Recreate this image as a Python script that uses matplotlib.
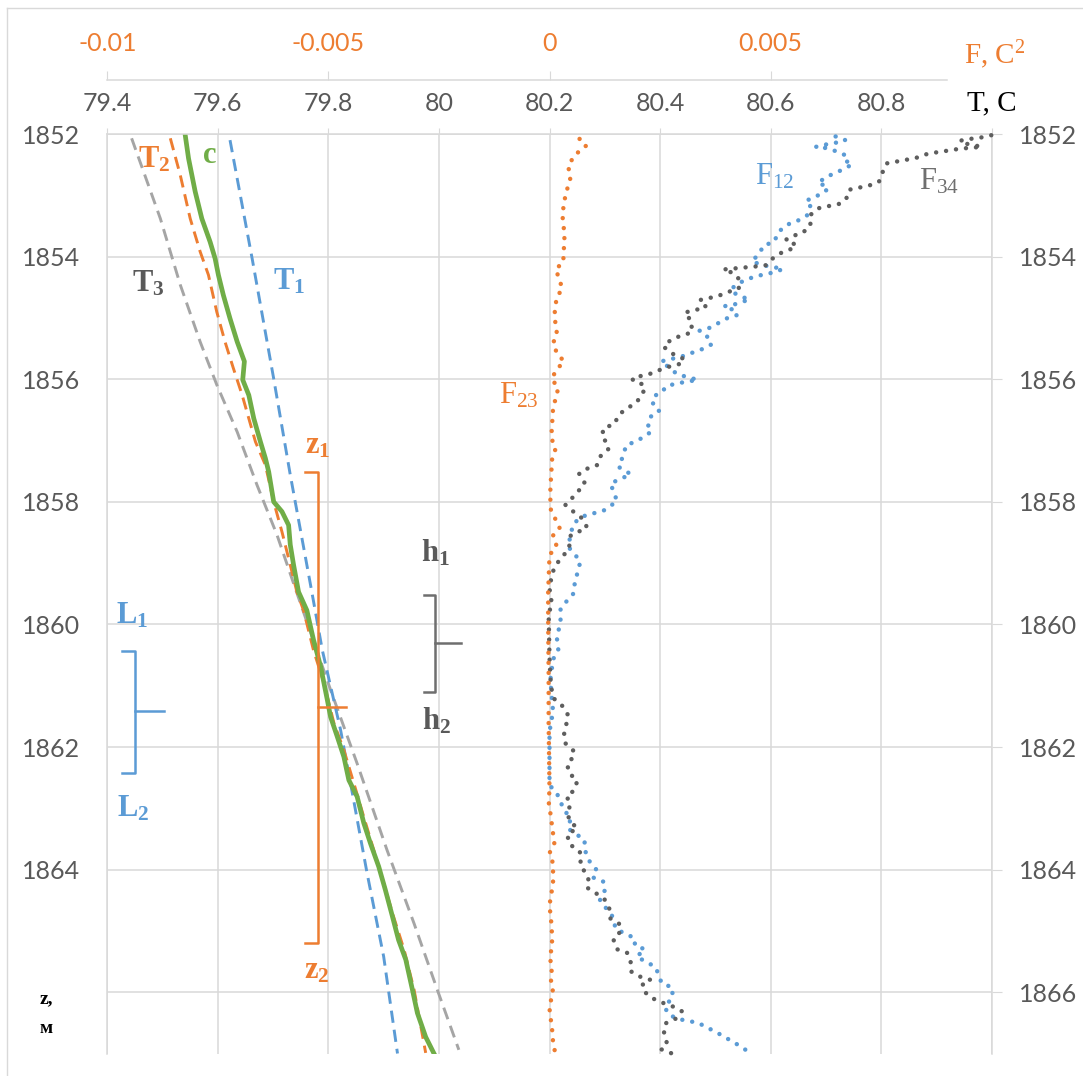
import matplotlib
matplotlib.use("Agg")
import matplotlib.pyplot as plt
import numpy as np
from matplotlib.lines import Line2D

plt.rcParams["font.family"] = ["Lato", "DejaVu Sans"]
plt.rcParams["mathtext.fontset"] = "custom"
plt.rcParams["mathtext.rm"] = "Liberation Serif"
plt.rcParams["mathtext.bf"] = "Liberation Serif:bold"
plt.rcParams["mathtext.it"] = "Liberation Serif:italic"

BLUE, ORANGE, GRAY, DARK, GREEN = "#5B9BD5", "#ED7D31", "#A5A5A5", "#5E5E5E", "#70AD47"
TXT, GRID = "#595959", "#D9D9D9"

# --- температура T (C) по глубине z (м) ---
c_z = [1852.02, 1852.40, 1852.94, 1853.38, 1853.76, 1854.03, 1854.30, 1854.63, 1855.01, 1855.39,
       1855.71, 1856.01, 1856.26, 1856.64, 1857.02, 1857.29, 1857.51, 1858.00, 1858.16, 1858.38,
       1858.70, 1859.03, 1859.47, 1859.77, 1860.25, 1860.69, 1861.23, 1861.51, 1861.83, 1862.16,
       1862.54, 1862.81, 1863.24, 1863.57, 1863.95, 1864.33, 1864.77, 1865.15, 1865.47, 1865.96,
       1866.34, 1866.73, 1867.00]
c_t = [79.541, 79.547, 79.559, 79.571, 79.586, 79.595, 79.601, 79.610, 79.622, 79.635,
       79.648, 79.645, 79.656, 79.665, 79.677, 79.686, 79.692, 79.701, 79.716, 79.728,
       79.731, 79.737, 79.746, 79.761, 79.773, 79.786, 79.798, 79.804, 79.816, 79.828,
       79.837, 79.852, 79.864, 79.876, 79.891, 79.903, 79.916, 79.927, 79.940, 79.952,
       79.961, 79.976, 79.991]

t2_z = [1852.07, 1852.67, 1853.38, 1853.92, 1854.30, 1854.90, 1855.39, 1855.82, 1856.26, 1856.64,
        1857.02, 1857.40, 1858.00, 1858.49, 1859.03, 1859.47, 1859.77, 1860.42, 1860.96, 1861.61,
        1862.05, 1862.59, 1863.14, 1863.68, 1864.22, 1864.77, 1865.31, 1865.96, 1866.99]
t2_t = [79.514, 79.532, 79.550, 79.568, 79.583, 79.598, 79.613, 79.628, 79.644, 79.656,
        79.668, 79.686, 79.701, 79.716, 79.731, 79.743, 79.755, 79.773, 79.792, 79.810,
        79.828, 79.846, 79.864, 79.882, 79.900, 79.918, 79.937, 79.955, 79.976]

t1_z = [1852.10, 1854.03, 1855.99, 1857.56, 1859.47, 1860.42, 1861.72, 1862.59, 1864.06, 1865.42, 1867.00]
t1_t = [79.622, 79.662, 79.701, 79.731, 79.770, 79.789, 79.822, 79.840, 79.870, 79.900, 79.925]

t3_z = [1852.07, 1853.38, 1854.46, 1855.39, 1856.09, 1856.86, 1857.73, 1858.54, 1859.41, 1861.07,
        1862.27, 1863.68, 1864.88, 1865.96, 1866.94]
t3_t = [79.444, 79.496, 79.532, 79.568, 79.598, 79.635, 79.671, 79.707, 79.740, 79.804,
        79.852, 79.906, 79.955, 79.997, 80.036]

# --- F (C^2), значения в единицах 1e-3 ---
f23_z = [1852.08, 1852.19, 1852.28, 1852.39, 1852.53, 1852.70, 1853.00, 1853.31, 1853.65, 1854.10,
         1854.20, 1854.52, 1854.67, 1854.96, 1855.27, 1855.41, 1855.58, 1855.71, 1855.85, 1856.00,
         1856.14, 1856.48, 1856.96, 1857.13, 1857.29, 1857.78, 1858.11, 1858.43, 1858.55, 1858.72,
         1858.87, 1859.47, 1859.93, 1860.80, 1861.61, 1862.70, 1862.89, 1863.08, 1863.41, 1863.58,
         1863.73, 1863.90, 1864.22, 1864.58, 1864.93, 1865.27, 1865.42, 1865.60, 1865.77, 1865.94,
         1866.27, 1866.62, 1866.81, 1866.96]
f23_v = [0.68, 0.83, 0.67, 0.53, 0.42, 0.48, 0.36, 0.29, 0.34, 0.31,
         0.14, 0.29, 0.16, 0.11, 0.17, 0.08, 0.17, 0.33, 0.15, 0.05,
         0.20, 0.08, 0.04, 0.14, 0.06, 0.02, 0.02, 0.23, 0.08, 0.16,
         0.00, -0.03, -0.03, -0.02, -0.02, 0.00, -0.02, 0.02, 0.08, 0.11,
         0.00, 0.08, 0.08, 0.00, 0.05, 0.06, 0.00, 0.06, 0.02, 0.08,
         0.00, 0.06, 0.08, 0.12]

f12_z = [1852.04, 1852.10, 1852.14, 1852.17, 1852.21, 1852.23, 1852.29, 1852.34, 1852.42, 1852.49,
         1852.57, 1852.63, 1852.71, 1852.80, 1852.86, 1852.94, 1853.02, 1853.09, 1853.16, 1853.32,
         1853.42, 1853.48, 1853.59, 1853.77, 1853.81, 1853.94, 1854.08, 1854.14, 1854.20, 1854.25,
         1854.32, 1854.38, 1854.47, 1854.56, 1854.64, 1854.70, 1854.79, 1854.81, 1854.87, 1854.95,
         1855.00, 1855.16, 1855.21, 1855.30, 1855.43, 1855.51, 1855.63, 1855.71, 1855.80, 1855.92,
         1856.01, 1856.04, 1856.07, 1856.12, 1856.21, 1856.28, 1856.43, 1856.52, 1856.62, 1856.75,
         1856.85, 1856.95, 1857.09, 1857.21, 1857.43, 1857.55, 1857.70, 1857.86, 1857.99, 1858.14,
         1858.24, 1858.35, 1858.44, 1858.73, 1858.97, 1859.33, 1859.49, 1859.61, 1859.75, 1859.92,
         1860.24, 1860.42, 1860.57, 1860.91, 1861.42, 1861.75, 1862.62, 1862.76, 1863.03, 1863.16,
         1863.33, 1863.52, 1863.65, 1863.87, 1864.01, 1864.13, 1864.20, 1864.34, 1864.50, 1864.76,
         1864.97, 1865.12, 1865.24, 1865.30, 1865.42, 1865.59, 1865.86, 1865.92, 1866.10, 1866.21,
         1866.33, 1866.43, 1866.50, 1866.66, 1866.84, 1866.98]
f12_v = [6.47, 6.69, 6.49, 6.26, 6.02, 6.26, 6.52, 6.67, 6.64, 6.85,
         6.67, 6.47, 6.24, 6.07, 6.30, 6.24, 6.02, 5.80, 5.90, 5.84,
         5.60, 5.37, 5.19, 5.07, 4.85, 4.75, 4.58, 4.82, 5.28, 5.12,
         4.67, 4.43, 4.19, 4.10, 4.29, 4.52, 4.14, 3.94, 4.16, 4.26,
         4.03, 3.63, 3.39, 3.56, 3.67, 3.45, 2.99, 2.52, 2.69, 2.89,
         3.35, 3.12, 2.86, 2.63, 2.55, 2.35, 2.34, 2.48, 2.27, 2.23,
         2.31, 2.12, 1.72, 1.69, 1.56, 1.84, 1.38, 1.46, 1.53, 1.23,
         0.74, 0.55, 0.51, 0.42, 0.70, 0.57, 0.55, 0.40, 0.25, 0.25,
         0.17, 0.20, 0.08, 0.02, 0.08, 0.00, 0.00, 0.17, 0.33, 0.48,
         0.42, 0.80, 0.78, 0.91, 1.07, 0.99, 1.23, 1.25, 1.14, 1.42,
         1.50, 1.93, 1.93, 2.16, 1.97, 2.40, 2.54, 2.78, 2.78, 2.62,
         2.65, 2.86, 3.36, 3.79, 4.22, 4.52]

f34_z = [1852.02, 1852.06, 1852.08, 1852.11, 1852.15, 1852.18, 1852.21, 1852.24, 1852.27, 1852.32,
         1852.38, 1852.42, 1852.48, 1852.61, 1852.78, 1852.84, 1852.91, 1853.06, 1853.14, 1853.21,
         1853.32, 1853.50, 1853.62, 1853.67, 1853.73, 1853.81, 1853.89, 1853.95, 1854.04, 1854.14,
         1854.16, 1854.21, 1854.27, 1854.37, 1854.52, 1854.57, 1854.64, 1854.68, 1854.71, 1854.82,
         1854.87, 1854.91, 1854.96, 1855.09, 1855.17, 1855.25, 1855.29, 1855.36, 1855.47, 1855.58,
         1855.66, 1855.74, 1855.77, 1855.83, 1855.90, 1855.94, 1855.99, 1856.04, 1856.09, 1856.18,
         1856.29, 1856.39, 1856.49, 1856.58, 1856.74, 1856.79, 1856.94, 1857.06, 1857.14, 1857.25,
         1857.40, 1857.46, 1857.54, 1857.70, 1857.81, 1857.94, 1858.05, 1858.16, 1858.27, 1858.42,
         1858.49, 1858.55, 1858.76, 1858.90, 1859.03, 1859.17, 1859.33, 1859.49, 1859.66, 1859.82,
         1860.53, 1860.88, 1861.07, 1861.21, 1861.33, 1861.48, 1861.63, 1861.79, 1861.94, 1862.06,
         1862.15, 1862.27, 1862.43, 1862.54, 1862.70, 1862.81, 1862.91, 1863.06, 1863.19, 1863.33,
         1863.42, 1863.59, 1863.67, 1863.76, 1863.92, 1864.06, 1864.15, 1864.29, 1864.38, 1864.48,
         1864.63, 1864.80, 1864.88, 1865.01, 1865.13, 1865.30, 1865.36, 1865.52, 1865.66, 1865.75,
         1865.80, 1865.88, 1865.99, 1866.10, 1866.17, 1866.23, 1866.31, 1866.43, 1866.51, 1866.66,
         1866.82, 1866.93, 1867.00]
f34_v = [9.99, 9.74, 9.51, 9.28, 9.36, 9.58, 9.77, 9.28, 9.02, 8.56,
         8.34, 8.07, 7.62, 7.54, 7.45, 7.23, 6.77, 6.71, 6.55, 6.09,
         5.90, 5.90, 5.71, 5.46, 5.34, 5.58, 5.43, 5.20, 5.03, 4.90,
         4.67, 3.93, 4.16, 4.29, 4.28, 4.07, 3.82, 3.59, 3.39, 3.54,
         3.31, 3.07, 3.16, 3.14, 3.25, 3.16, 2.97, 2.74, 2.58, 2.77,
         3.01, 3.03, 2.82, 2.55, 2.34, 2.10, 1.87, 1.91, 2.14, 2.14,
         2.06, 1.95, 1.72, 1.57, 1.46, 1.23, 1.18, 1.33, 1.33, 1.16,
         1.08, 0.85, 0.67, 0.80, 0.67, 0.51, 0.36, 0.54, 0.74, 0.85,
         0.65, 0.48, 0.44, 0.29, 0.14, 0.06, 0.02, 0.00, 0.06, -0.02,
         0.00, 0.02, 0.05, 0.10, 0.29, 0.42, 0.38, 0.33, 0.36, 0.54,
         0.56, 0.40, 0.44, 0.63, 0.57, 0.38, 0.48, 0.42, 0.44, 0.63,
         0.40, 0.45, 0.64, 0.73, 0.69, 0.82, 0.88, 0.84, 1.04, 1.24,
         1.35, 1.38, 1.57, 1.61, 1.44, 1.53, 1.76, 1.84, 1.84, 2.06,
         2.29, 2.10, 2.14, 2.33, 2.55, 2.78, 2.99, 2.86, 2.62, 2.59,
         2.65, 2.52, 2.77]

t_ticks = [79.4, 79.6, 79.8, 80.0, 80.2, 80.4, 80.6, 80.8, 81.0]
t_labels = ["79.4", "79.6", "79.8", "80", "80.2", "80.4", "80.6", "80.8", ""]
f_ticks = [-0.01, -0.005, 0.0, 0.005]
f_labels = ["-0.01", "-0.005", "0", "0.005"]
z_ticks = list(range(1852, 1867, 2))

# подписи кривых: (текст, T, z, цвет)
labels = [
    (r"$\mathbf{T}_{\mathbf{2}}$", 79.456, 1852.55, ORANGE),
    (r"$\mathbf{c}$", 79.572, 1852.48, GREEN),
    (r"$\mathbf{T}_{\mathbf{3}}$", 79.445, 1854.57, TXT),
    (r"$\mathbf{T}_{\mathbf{1}}$", 79.700, 1854.54, BLUE),
    (r"$\mathbf{z}_{\mathbf{1}}$", 79.758, 1857.21, ORANGE),
    (r"$\mathbf{z}_{\mathbf{2}}$", 79.755, 1865.77, ORANGE),
    (r"$\mathbf{h}_{\mathbf{1}}$", 79.967, 1858.97, TXT),
    (r"$\mathbf{h}_{\mathbf{2}}$", 79.970, 1861.72, TXT),
    (r"$\mathbf{L}_{\mathbf{1}}$", 79.416, 1859.98, BLUE),
    (r"$\mathbf{L}_{\mathbf{2}}$", 79.418, 1863.14, BLUE),
    (r"$\mathrm{F}_{12}$", 80.572, 1852.83, BLUE),
    (r"$\mathrm{F}_{34}$", 80.869, 1852.91, "#6F6F6F"),
    (r"$\mathrm{F}_{23}$", 80.108, 1856.39, ORANGE),
]

# скобки: (T линии, верх, низ, T концов, z отвода, T отвода, цвет)
brackets = [
    (79.781, 1857.51, 1865.20, 79.757, 1861.35, 79.831, ORANGE),
    (79.993, 1859.52, 1861.10, 79.973, 1860.31, 80.039, "#6E6E6E"),
    (79.450, 1860.43, 1862.42, 79.426, 1861.41, 79.502, BLUE),
]

fig = plt.figure(figsize=(10.83, 10.76), dpi=100)
ax = fig.add_axes([0.09908, 0.02091, 0.81662, 0.85455])
ax2 = ax.twiny()

ax.set_xlim(79.4, 81.0)
ax.set_ylim(1867, 1852)
ax2.set_xlim(-0.01, 0.01)

dash = dict(lw=2.1, linestyle=(0, (4.2, 2.4)), dash_capstyle="butt")
ax.plot(t3_t, t3_z, color=GRAY, **dash)
ax.plot(t1_t, t1_z, color=BLUE, **dash)
ax.plot(t2_t, t2_z, color=ORANGE, **dash)
ax.plot(c_t, c_z, color=GREEN, lw=3.4, solid_joinstyle="round")

dots = dict(lw=3.2, linestyle=(0, (0.01, 2.25)), dash_capstyle="round", clip_on=False)
ax2.plot(np.array(f12_v) * 1e-3, f12_z, color=BLUE, **dots)
ax2.plot(np.array(f34_v) * 1e-3, f34_z, color=DARK, **dots)
ax2.plot(np.array(f23_v) * 1e-3, f23_z, color=ORANGE, **dots)

for xl, top, bot, cap, zm, tip, col in brackets:
    ax.plot([cap, xl, xl, cap], [top, top, bot, bot], color=col, lw=1.8, solid_joinstyle="round")
    ax.plot([xl, tip], [zm, zm], color=col, lw=1.8)

for txt, t, z, col in labels:
    ax.text(t, z, txt, color=col, fontsize=22, ha="left", va="baseline")

# оси
ax.xaxis.tick_top()
ax.set_xticks(t_ticks)
ax.set_xticklabels(t_labels)
ax.set_yticks(z_ticks)
ax.tick_params(axis="x", top=True, bottom=False, labeltop=True, labelbottom=False,
               direction="out", length=4.5, color=GRID, pad=9, labelsize=18, labelcolor=TXT)
ax.tick_params(axis="y", left=False, right=True, labelleft=True, labelright=True,
               direction="out", length=7, color=GRID, pad=12.5, labelsize=18, labelcolor=TXT)
# слева у нижней линии вместо 1866 стоит подпись "z, м"
ax.yaxis.get_major_ticks()[-1].label1.set_visible(False)
ax.grid(True, color=GRID, lw=1.1)
ax.set_axisbelow(True)
for side in ["top", "left", "right"]:
    ax.spines[side].set_color(GRID)
    ax.spines[side].set_linewidth(1.1)
ax.spines["bottom"].set_visible(False)

ax2.set_xticks(f_ticks)
ax2.set_xticklabels(f_labels)
ax2.spines["top"].set_position(("outward", 39))
ax2.spines["top"].set_bounds(-0.01, 0.009)
ax2.spines["top"].set_color(GRID)
ax2.spines["top"].set_linewidth(1.1)
for side in ["bottom", "left", "right"]:
    ax2.spines[side].set_visible(False)
ax2.tick_params(axis="x", direction="out", length=6.5, color=GRID, pad=11.5,
                labelsize=18, labelcolor=ORANGE)

fig.text(0.9157, 0.8978, "T, C", fontsize=21, family="Liberation Serif",
         color="black", ha="center", va="baseline")
fig.text(0.9187, 0.9405, "F, C$^2$", fontsize=21, family="Liberation Serif",
         color=ORANGE, ha="center", va="baseline")
fig.text(0.0425, 0.0678, "z,", fontsize=14, family="Liberation Serif", weight="bold",
         color="black", ha="center", va="baseline")
fig.text(0.0425, 0.0400, "м", fontsize=14, family="Liberation Serif", weight="bold",
         color="black", ha="center", va="baseline")

# рамка области диаграммы
fig.add_artist(Line2D([7 / 1083, 1.0], [1 - 8 / 1076] * 2, transform=fig.transFigure, color=GRID, lw=1))
fig.add_artist(Line2D([7 / 1083] * 2, [0.0, 1 - 8 / 1076], transform=fig.transFigure, color=GRID, lw=1))

fig.savefig("out.png", dpi=100)
plt.close(fig)
